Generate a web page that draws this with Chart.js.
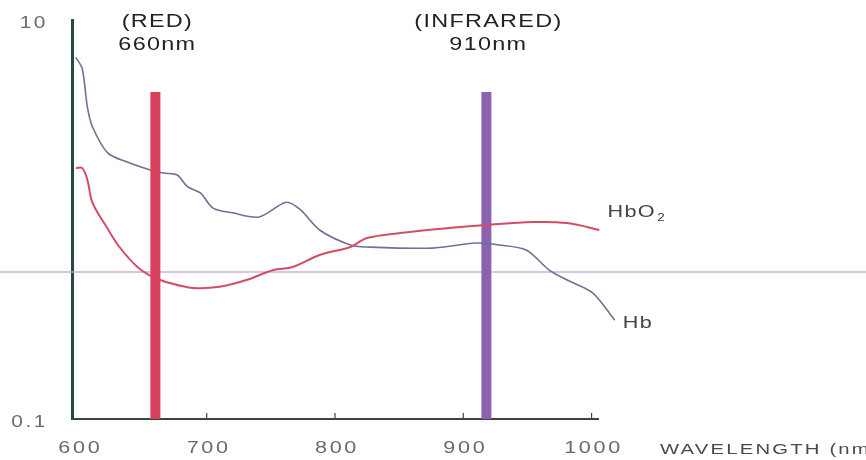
<!DOCTYPE html>
<html>
<head>
<meta charset="utf-8">
<script src="https://cdn.jsdelivr.net/npm/chart.js@4"></script>
<style>
  html, body { margin: 0; padding: 0; background: #fff; }
  #wrap { width: 866px; height: 460px; }
</style>
</head>
<body>
<div id="wrap"><canvas id="chart"></canvas></div>
<script>
// Absorption curves (log scale)
const hbWavelength = [598, 603, 607, 611, 623, 638, 656, 666, 677, 685, 695, 705, 720, 741, 762, 773, 788, 812, 825, 876, 910, 928, 949, 967, 981, 1001, 1018];
const hbAbsorption = [6.5, 5.7, 3.66, 2.91, 2.15, 1.94, 1.77, 1.71, 1.67, 1.46, 1.36, 1.14, 1.08, 1.03, 1.22, 1.12, 0.886, 0.745, 0.728, 0.719, 0.762, 0.745, 0.703, 0.558, 0.497, 0.428, 0.313];

const hbo2Wavelength = [598, 603, 607, 611, 622, 632, 646, 658, 671, 689, 710, 731, 752, 767, 788, 812, 825, 851, 889, 918, 954, 981, 1006, 1014];
const hbo2Absorption = [1.81, 1.81, 1.58, 1.21, 0.917, 0.728, 0.578, 0.515, 0.481, 0.454, 0.46, 0.497, 0.558, 0.578, 0.664, 0.728, 0.807, 0.855, 0.906, 0.938, 0.971, 0.96, 0.886, 0.855];

// LED wavelength markers
const ledWavelength = [660, 918];
const ledNames = ['(RED)', '(INFRARED)'];
const ledLabels = ['660nm', '910nm'];
const ledColors = ['#d8405b', '#8a62ae'];
const ledOrder = [-1, 5];
const ledTop = 4.35;

const xTicks = [600, 700, 800, 900, 1000];
const yTicks = [0.1, 10];

const toPoints = (xs, ys) => xs.map((v, i) => ({ x: v, y: ys[i] }));

const datasets = [
    {
        label: 'HbO2',
        data: toPoints(hbo2Wavelength, hbo2Absorption),
        borderColor: '#d24d66',
        borderWidth: 2,
        tension: 0.35,
        pointRadius: 0,
        clip: false
    },
    {
        label: 'Hb',
        data: toPoints(hbWavelength, hbAbsorption),
        borderColor: '#6e7194',
        borderWidth: 1.6,
        tension: 0.3,
        pointRadius: 0,
        clip: false
    }
];
ledWavelength.forEach((w, i) => {
    datasets.push({
        label: ledNames[i],
        data: [{ x: w, y: yTicks[0] }, { x: w, y: ledTop }],
        borderColor: ledColors[i],
        borderWidth: 10,
        borderCapStyle: 'butt',
        pointRadius: 0,
        order: ledOrder[i]
    });
});

// the original lettering is wide, so text is drawn stretched sideways
function wideText(ctx, text, px, py, stretch) {
    ctx.save();
    ctx.translate(px, py);
    ctx.scale(stretch, 1);
    ctx.fillText(text, 0, 0);
    ctx.restore();
}

const annotate = {
    id: 'annotate',
    beforeDatasetsDraw(chart) {
        // faint horizontal scan line across the whole picture
        const { ctx, width, scales: { y } } = chart;
        const py = y.getPixelForValue(0.546);
        ctx.save();
        ctx.strokeStyle = 'rgba(196,160,214,0.85)';
        ctx.lineWidth = 1.5;
        ctx.beginPath();
        ctx.moveTo(0, py);
        ctx.lineTo(width, py);
        ctx.stroke();
        ctx.restore();
    },
    afterDraw(chart) {
        const { ctx, scales: { x, y } } = chart;
        ctx.save();

        // inward tick marks
        ctx.strokeStyle = '#444';
        ctx.lineWidth = 1.2;
        xTicks.slice(1).forEach(t => {
            const px = x.getPixelForValue(t);
            ctx.beginPath();
            ctx.moveTo(px, y.bottom);
            ctx.lineTo(px, y.bottom - 6);
            ctx.stroke();
        });

        // tick labels
        ctx.fillStyle = '#6a6a6a';
        ctx.textBaseline = 'middle';
        ctx.font = '16px "Liberation Sans"';
        ctx.letterSpacing = '2px';
        ctx.textAlign = 'center';
        x.ticks.forEach(t => wideText(ctx, String(t.value), x.getPixelForValue(t.value) + 2, y.bottom + 30, 1.35));
        ctx.textAlign = 'right';
        y.ticks.forEach(t => wideText(ctx, String(t.value), 48, y.getPixelForValue(t.value) + 4, 1.3));

        // LED labels above the bars
        ctx.fillStyle = '#222';
        ctx.textAlign = 'center';
        ctx.font = '18px "Liberation Sans"';
        ctx.letterSpacing = '1px';
        ledWavelength.forEach((w, i) => {
            const px = x.getPixelForValue(w);
            wideText(ctx, ledNames[i], px + 2, 22, 1.3);
            wideText(ctx, ledLabels[i], px + 2, 45, 1.3);
        });

        // curve names at the curve ends
        ctx.fillStyle = '#444';
        ctx.textAlign = 'left';
        ctx.font = '16px "Liberation Sans"';
        const m0 = chart.getDatasetMeta(0).data;
        const m1 = chart.getDatasetMeta(1).data;
        const e0 = m0[m0.length - 1];
        const e1 = m1[m1.length - 1];
        ctx.save();
        ctx.translate(e0.x - 2, e0.y - 20);
        ctx.scale(1.35, 1);
        ctx.fillText('HbO', 0, 0);
        const w0 = ctx.measureText('HbO').width;
        ctx.font = '10px "Liberation Sans"';
        ctx.fillText('2', w0 + 1, 5);
        ctx.restore();
        ctx.font = '16px "Liberation Sans"';
        wideText(ctx, 'Hb', e1.x + 8, e1.y + 3, 1.35);

        // axis title
        ctx.fillStyle = '#4a4a4a';
        ctx.font = '14px "Liberation Sans"';
        ctx.letterSpacing = '1.5px';
        wideText(ctx, 'WAVELENGTH (nm)', x.right + 62, y.bottom + 31, 1.45);
        ctx.restore();
    }
};

new Chart(document.getElementById('chart'), {
    type: 'line',
    data: { datasets },
    options: {
        responsive: true,
        maintainAspectRatio: false,
        animation: false,
        layout: { autoPadding: false, padding: { top: 20, right: 268, left: 0, bottom: 0 } },
        plugins: { legend: { display: false }, tooltip: { enabled: false } },
        scales: {
            x: {
                type: 'linear',
                min: 595,
                max: 1005,
                afterBuildTicks: s => { s.ticks = xTicks.map(v => ({ value: v })); },
                afterFit: s => { s.height = 41; },
                grid: { display: false, drawTicks: false },
                border: { color: '#3a4444', width: 2 },
                ticks: { display: false }
            },
            y: {
                type: 'logarithmic',
                min: 0.1,
                max: 10,
                afterBuildTicks: s => { s.ticks = yTicks.map(v => ({ value: v })); },
                afterFit: s => { s.width = 72; },
                grid: { display: false, drawTicks: false },
                border: { color: '#264846', width: 3 },
                ticks: { display: false }
            }
        }
    },
    plugins: [annotate]
});
</script>
</body>
</html>
